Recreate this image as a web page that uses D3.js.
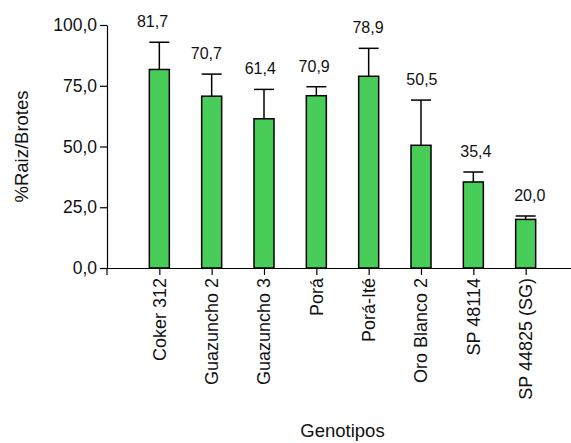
<!DOCTYPE html>
<html>
<head>
<meta charset="utf-8">
<script src="https://cdn.jsdelivr.net/npm/d3@7"></script>
<style>
  html, body { margin: 0; padding: 0; background: #fff; }
  svg { display: block; font-family: "Liberation Sans", Arial, sans-serif; }
</style>
</head>
<body>
<div id="chart"></div>
<script>
// data
const genotipos = ['Coker 312', 'Guazuncho 2', 'Guazuncho 3', 'Porá', 'Porá-Ité', 'Oro Blanco 2', 'SP 48114', 'SP 44825 (SG)'];
const medias = [81.7, 70.7, 61.4, 70.9, 78.9, 50.5, 35.4, 20.0];
const errores = [11.2, 9.1, 12.1, 3.7, 11.5, 18.6, 4.1, 1.4];
const yTicks = [0, 25, 50, 75, 100];

const W = 571, H = 443;
const plot = { left: 107, right: 578, top: 25, bottom: 268 };

const svg = d3.select('#chart').append('svg')
  .attr('width', W)
  .attr('height', H);

const x = d3.scalePoint()
  .domain(genotipos)
  .range([plot.left, plot.right])
  .padding(1);

// the value labels sit on a slightly wider spacing than the bars
const xLabel = d3.scalePoint()
  .domain(genotipos)
  .range([98.6, 583.6])
  .padding(1);

const y = d3.scaleLinear()
  .domain([0, 100])
  .range([plot.bottom, plot.top]);

const fmt = v => d3.format('.1f')(v).replace('.', ',');
const barW = 20;

// bars
svg.append('g')
  .selectAll('rect')
  .data(medias)
  .enter()
  .append('rect')
  .attr('x', (d, i) => x(genotipos[i]) - barW / 2)
  .attr('y', d => y(d))
  .attr('width', barW)
  .attr('height', d => y(0) - y(d))
  .attr('fill', '#48cd58')
  .attr('stroke', '#000')
  .attr('stroke-width', 1.5);

// error bars (upper only)
const err = svg.append('g').attr('stroke', '#000').attr('stroke-width', 1.5);
medias.forEach((m, i) => {
  const cx = x(genotipos[i]);
  const top = y(m + errores[i]);
  err.append('line')
    .attr('x1', cx).attr('x2', cx)
    .attr('y1', y(m)).attr('y2', top);
  err.append('line')
    .attr('x1', cx - barW / 2).attr('x2', cx + barW / 2)
    .attr('y1', top).attr('y2', top);
});

// value labels
svg.append('g')
  .selectAll('text')
  .data(medias)
  .enter()
  .append('text')
  .attr('x', (d, i) => xLabel(genotipos[i]))
  .attr('y', (d, i) => y(d + errores[i]) - 15)
  .attr('text-anchor', 'middle')
  .style('font-size', '16px')
  .attr('fill', '#111')
  .text(d => fmt(d));

// y axis
const yAxis = svg.append('g')
  .attr('transform', `translate(${plot.left},0)`)
  .call(d3.axisLeft(y).tickValues(yTicks).tickFormat(fmt).tickSize(7).tickPadding(3).tickSizeOuter(0));
yAxis.selectAll('text').style('font-size', '17.5px').attr('fill', '#111');
yAxis.selectAll('line, path').attr('stroke', '#000').attr('stroke-width', 1.2);

// x axis
const xAxis = svg.append('g')
  .attr('transform', `translate(0,${y(0)})`)
  .call(d3.axisBottom(x).tickSize(7).tickSizeOuter(0).tickFormat(''));
xAxis.selectAll('line, path').attr('stroke', '#000').attr('stroke-width', 1.2);
// short downward tick where the axes cross
xAxis.append('line')
  .attr('x1', plot.left).attr('x2', plot.left)
  .attr('y1', 0).attr('y2', 7)
  .attr('stroke', '#000').attr('stroke-width', 1.2);

// rotated category labels
svg.append('g')
  .selectAll('text')
  .data(genotipos)
  .enter()
  .append('text')
  .attr('transform', d => `translate(${x(d)},${y(0) + 10}) rotate(-90)`)
  .attr('dy', '0.35em')
  .attr('text-anchor', 'end')
  .style('font-size', '18px')
  .attr('fill', '#111')
  .text(d => d);

// axis titles
svg.append('text')
  .attr('x', (plot.left + plot.right) / 2)
  .attr('y', 437)
  .attr('text-anchor', 'middle')
  .style('font-size', '18.5px')
  .attr('fill', '#111')
  .text('Genotipos');

svg.append('text')
  .attr('transform', `translate(28,${(plot.top + plot.bottom) / 2}) rotate(-90)`)
  .attr('text-anchor', 'middle')
  .style('font-size', '18.5px')
  .attr('fill', '#111')
  .text('%Raiz/Brotes');
</script>
</body>
</html>
